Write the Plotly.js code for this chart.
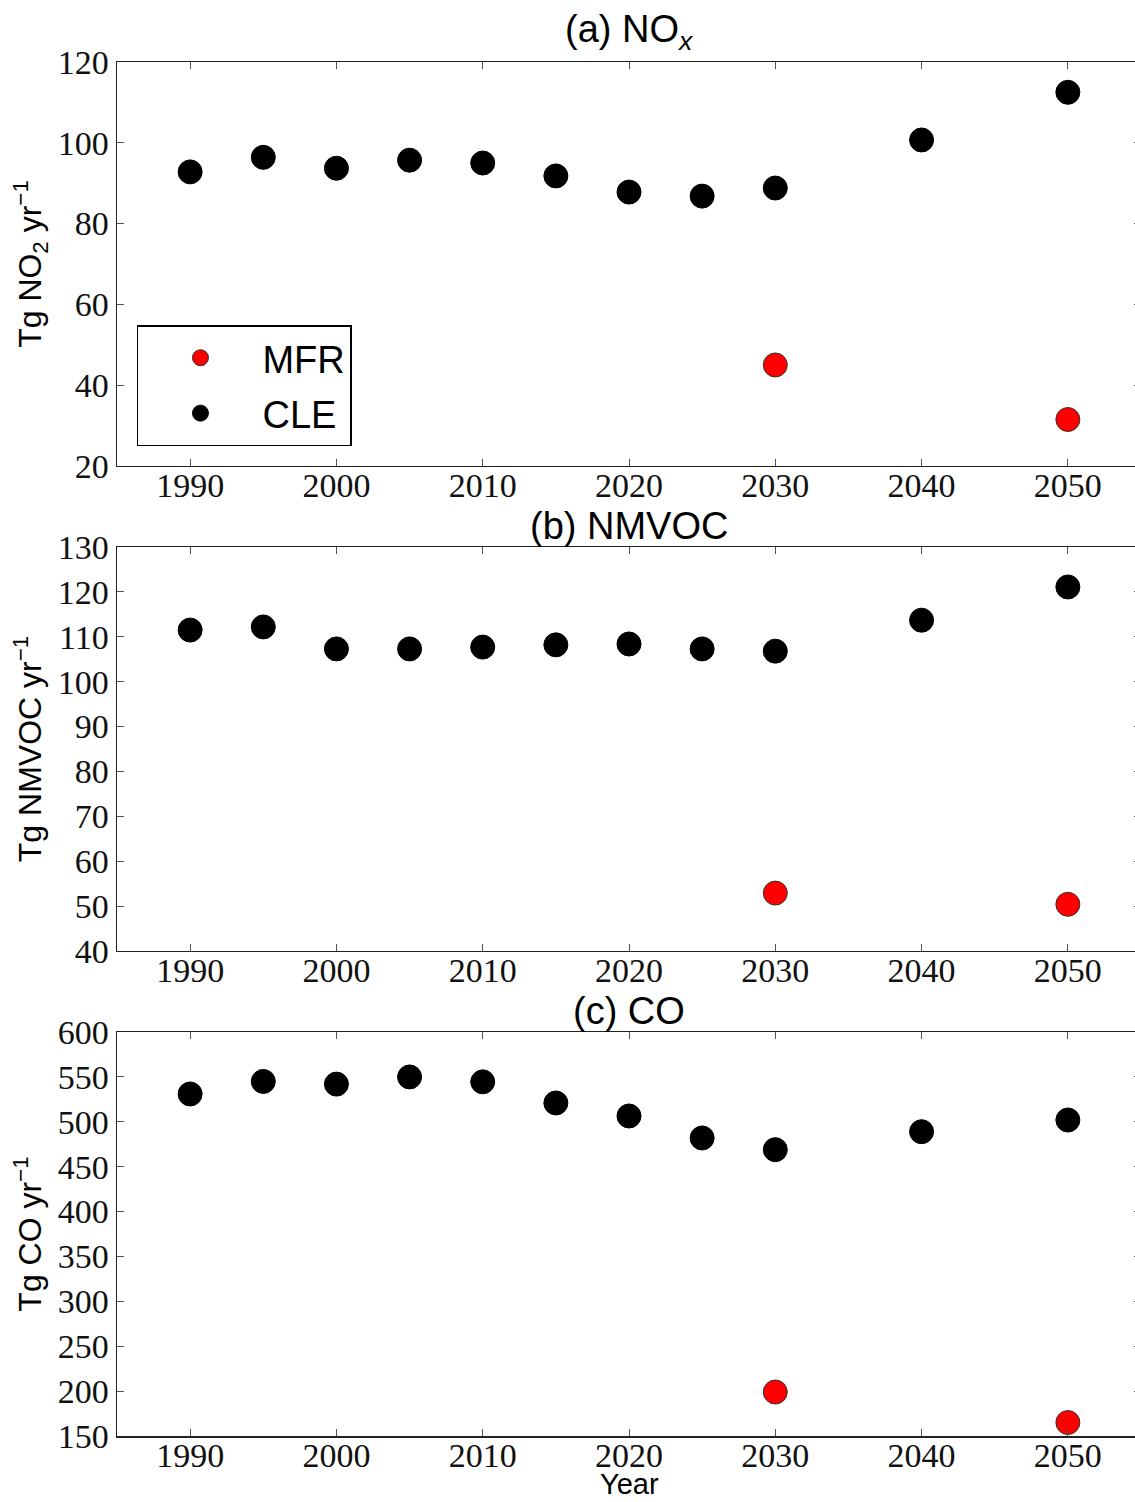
<!DOCTYPE html>
<html>
<head>
<meta charset="utf-8">
<script src="https://cdn.plot.ly/plotly-3.0.1.min.js"></script>
<style>
  html, body { margin: 0; padding: 0; overflow: hidden; background: #fff; }
  #chart { width: 1150px; height: 1502px; }
</style>
</head>
<body>
<div id="chart"></div>
<script>
// ---- Data ----
const years = [1990, 1995, 2000, 2005, 2010, 2015, 2020, 2025, 2030, 2040, 2050];
const mfrYears = [2030, 2050];

const noxCLE = [92.8, 96.4, 93.7, 95.7, 95.0, 91.8, 87.8, 86.8, 88.8, 100.7, 112.5];
const noxMFR = [45.0, 31.5];

const nmvocCLE = [111.5, 112.2, 107.3, 107.3, 107.7, 108.2, 108.4, 107.3, 106.8, 113.7, 121.1];
const nmvocMFR = [52.9, 50.4];

const coCLE = [531, 545, 542, 550, 544.5, 521, 506.5, 482, 469, 489, 502];
const coMFR = [199, 165];

const xTicks = [1990, 2000, 2010, 2020, 2030, 2040, 2050];
const panelTitles = ['(a) NO<sub><i>x</i></sub>', '(b) NMVOC', '(c) CO'];
const yTitles = ['Tg NO<sub>2</sub> yr<sup>\u22121</sup>', 'Tg NMVOC yr<sup>\u22121</sup>', 'Tg CO yr<sup>\u22121</sup>'];
const xTitle = 'Year';
const yRanges = [[20, 120], [40, 130], [150, 600]];
const yDtick = [20, 10, 50];

// ---- Styles ----
const serif = 'Liberation Serif, Times New Roman, serif';
const sans = 'Liberation Sans, Arial, Helvetica, sans-serif';
const mSize = 24;

function cle(y, xa, ya, show) {
  return { x: years, y: y, xaxis: xa, yaxis: ya, type: 'scatter', mode: 'markers',
    name: 'CLE', showlegend: show, legendgroup: 'cle',
    marker: { color: '#000000', size: mSize, line: { color: '#000000', width: 1 } } };
}
function mfr(y, xa, ya, show) {
  return { x: mfrYears, y: y, xaxis: xa, yaxis: ya, type: 'scatter', mode: 'markers',
    name: 'MFR', showlegend: show, legendgroup: 'mfr',
    marker: { color: '#ff0000', size: mSize, line: { color: '#333333', width: 1 } } };
}

const data = [
  mfr(noxMFR, 'x', 'y', true), cle(noxCLE, 'x', 'y', true),
  mfr(nmvocMFR, 'x2', 'y2', false), cle(nmvocCLE, 'x2', 'y2', false),
  mfr(coMFR, 'x3', 'y3', false), cle(coCLE, 'x3', 'y3', false)
];

function xaxis(anchor) {
  return {
    anchor: anchor, domain: [0, 1], range: [1985, 2055], tickvals: xTicks,
    ticks: 'inside', ticklen: 7, tickwidth: 1, tickcolor: '#555',
    showline: true, linecolor: '#222', linewidth: 1.5, mirror: 'allticks',
    showgrid: false, zeroline: false, ticklabelstandoff: -11,
    tickfont: { family: serif, size: 34, color: '#111' }
  };
}
function yaxis(anchor, domain, i) {
  return {
    anchor: anchor, domain: domain, range: yRanges[i], dtick: yDtick[i], tick0: 0,
    ticks: 'inside', ticklen: 7, tickwidth: 1, tickcolor: '#555',
    showline: true, linecolor: '#222', linewidth: 1.5, mirror: 'allticks',
    showgrid: false, zeroline: false,
    tickfont: { family: serif, size: 34, color: '#111' },
    title: { text: yTitles[i], font: { family: sans, size: 32, color: '#000' }, standoff: 6 }
  };
}

const domains = [[0.706, 1.0], [0.353, 0.647], [0.0, 0.294]];

const annotations = panelTitles.map((t, i) => ({
  text: t, xref: 'paper', yref: 'paper', x: 0.5, y: domains[i][1],
  xanchor: 'center', yanchor: 'bottom', yshift: i === 0 ? 4 : -2, showarrow: false,
  font: { family: sans, size: 38, color: '#000' }
}));
annotations.push({
  text: xTitle, xref: 'paper', yref: 'paper', x: 0.5, y: 0, yshift: -65,
  xanchor: 'center', yanchor: 'bottom', showarrow: false, borderpad: 0,
  font: { family: sans, size: 29, color: '#000' }
});

const layout = {
  width: 1150, height: 1502,
  margin: { l: 117, r: 9, t: 62, b: 66 },
  paper_bgcolor: '#ffffff', plot_bgcolor: '#ffffff',
  showlegend: true,
  legend: {
    x: 0.0195, y: 0.7205, xanchor: 'left', yanchor: 'bottom', xref: 'paper', yref: 'paper',
    bgcolor: '#ffffff', bordercolor: '#000', borderwidth: 1.5,
    font: { family: sans, size: 38, color: '#000' },
    itemwidth: 114, traceorder: 'grouped', tracegroupgap: 3
  },
  xaxis: xaxis('y'), yaxis: yaxis('x', domains[0], 0),
  xaxis2: xaxis('y2'), yaxis2: yaxis('x2', domains[1], 1),
  xaxis3: xaxis('y3'), yaxis3: yaxis('x3', domains[2], 2),
  annotations: annotations
};

Plotly.newPlot('chart', data, layout, { staticPlot: true, displayModeBar: false });
</script>
</body>
</html>
